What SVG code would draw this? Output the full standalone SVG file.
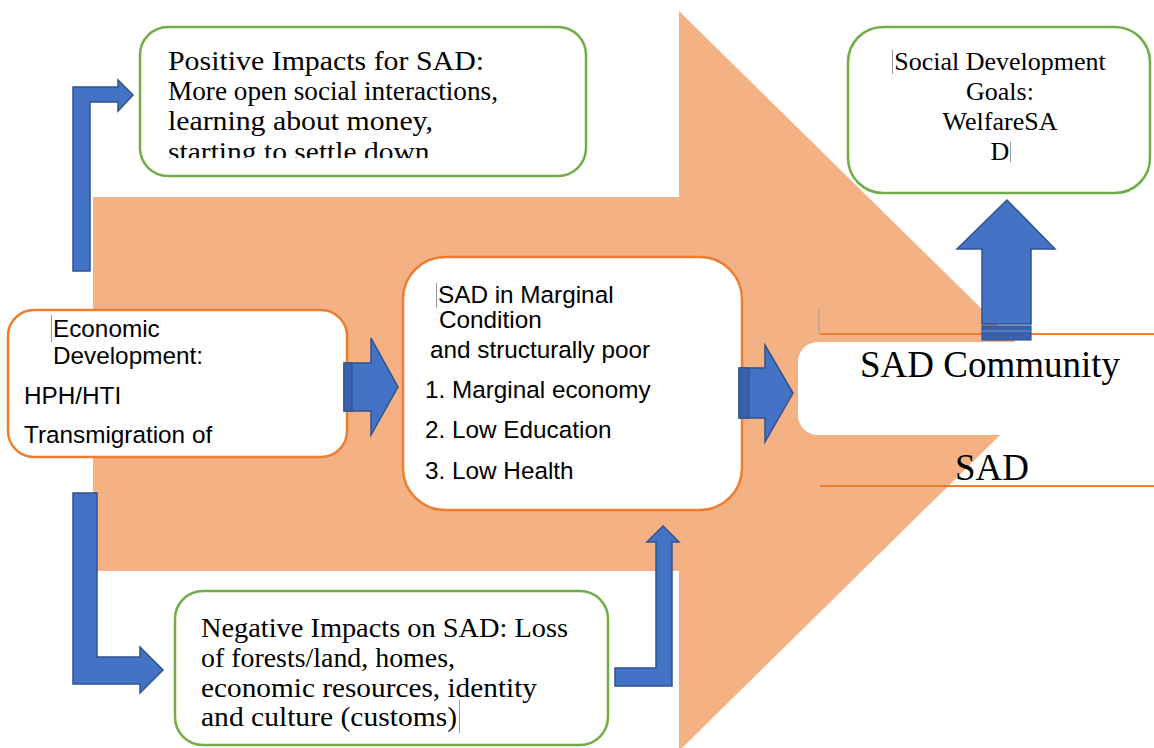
<svg xmlns="http://www.w3.org/2000/svg" width="1154" height="748" viewBox="0 0 1154 748">
<style>
.bg{fill:#F4B183}
.boxO{fill:#fff;stroke:#ED7D31;stroke-width:2.5}
.boxG{fill:#fff;stroke:#70AD47;stroke-width:2.5}
.arr{fill:#4472C4;stroke:#2F528F;stroke-width:1.5;stroke-linejoin:miter}
.band{fill:#3A62AC;stroke:#2F528F;stroke-width:1.2}
.sans{font-family:"Liberation Sans",Arial,sans-serif;font-size:24.3px;fill:#000}
.serif{font-family:"Liberation Serif","Times New Roman",serif;fill:#000}
.cur{stroke:#9a9a9a;stroke-width:1}
.oline{stroke:#ED7D31;stroke-width:2}
</style>
<defs>
<clipPath id="clipPos"><rect x="140" y="27" width="446" height="131"/></clipPath>
</defs>
<rect width="1154" height="748" fill="#fff"/>
<polygon class="bg" points="93,197 679,197 679,11 1055,381 679,751 679,571 93,571"/>

<g id="positive">
<rect class="boxG" x="140" y="27" width="446" height="149" rx="28"/>
<g clip-path="url(#clipPos)" class="serif" font-size="27" lengthAdjust="spacingAndGlyphs">
<text x="168" y="70" textLength="316" lengthAdjust="spacingAndGlyphs">Positive Impacts for SAD:</text>
<text x="168" y="100" textLength="330" lengthAdjust="spacingAndGlyphs">More open social interactions,</text>
<text x="168" y="130" textLength="265" lengthAdjust="spacingAndGlyphs">learning about money,</text>
<text x="168" y="161" textLength="269" lengthAdjust="spacingAndGlyphs">starting to settle down.</text>
</g>
</g>

<g id="goals">
<rect class="boxG" x="848" y="27" width="302" height="166" rx="35"/>
<g class="serif" font-size="26" text-anchor="middle">
<text x="1000" y="70">Social Development</text>
<text x="1000" y="100">Goals:</text>
<text x="1000" y="130">WelfareSA</text>
<text x="1000" y="160">D</text>
</g>
<line class="cur" x1="892.5" y1="50" x2="892.5" y2="74"/>
<line class="cur" x1="1010.5" y1="142" x2="1010.5" y2="162"/>
</g>

<g id="economic">
<rect class="boxO" x="8" y="310" width="339" height="147" rx="26"/>
<g class="sans">
<text x="53" y="337">Economic</text>
<text x="53" y="364">Development:</text>
<text x="24" y="404">HPH/HTI</text>
<text x="24" y="443">Transmigration of</text>
</g>
<line class="cur" x1="51.5" y1="315" x2="51.5" y2="342"/>
</g>

<g id="marginal">
<rect class="boxO" x="403" y="257" width="339" height="253" rx="42"/>
<g class="sans">
<text x="438" y="303">SAD in Marginal</text>
<text x="439" y="328">Condition</text>
<text x="430" y="358">and structurally poor</text>
<text x="425" y="398">1. Marginal economy</text>
<text x="425" y="438">2. Low Education</text>
<text x="425" y="479">3. Low Health</text>
</g>
<line class="cur" x1="436.5" y1="283" x2="436.5" y2="308"/>
</g>

<g id="community">
<rect x="798" y="342" width="380" height="93" rx="20" fill="#fff"/>
<line x1="819" y1="309" x2="819" y2="334" stroke="#B8A89A" stroke-width="1.5"/>
<line class="oline" x1="820" y1="334" x2="1154" y2="334"/>
<text class="serif" font-size="37" x="860" y="377">SAD Community</text>
<text class="serif" font-size="37" x="955" y="480">SAD</text>
<line class="oline" x1="820" y1="486" x2="1154" y2="486"/>
</g>

<g id="negative">
<rect class="boxG" x="175" y="591" width="433" height="154" rx="28"/>
<g class="serif" font-size="27.5">
<text x="201" y="637" textLength="367" lengthAdjust="spacingAndGlyphs">Negative Impacts on SAD: Loss</text>
<text x="201" y="667" textLength="254" lengthAdjust="spacingAndGlyphs">of forests/land, homes,</text>
<text x="201" y="697" textLength="336" lengthAdjust="spacingAndGlyphs">economic resources, identity</text>
<text x="201" y="726" textLength="256" lengthAdjust="spacingAndGlyphs">and culture (customs)</text>
</g>
<line class="cur" x1="459.5" y1="700" x2="459.5" y2="733"/>
</g>

<g id="connectors">
<polygon class="arr" points="73,271 73,87 118,87 118,80 133,95 118,111 118,102 90,102 90,271"/>
<polygon class="arr" points="73,493 97,493 97,657 140,657 140,647 163,670 140,693 140,684 73,684"/>
<polygon class="arr" points="615,668 656,668 656,542 647,542 663,526 679,542 672,542 672,686 615,686"/>
<polygon class="arr" points="344,363 371,363 371,338 398,387 371,435 371,411 344,411"/>
<rect class="band" x="344" y="363" width="8" height="48"/>
<polygon class="arr" points="739,368 765,368 765,345 793,393 765,442 765,418 739,418"/>
<rect class="band" x="739" y="368" width="10" height="50"/>
<polygon class="arr" points="982,324 982,249 957,249 1007,200 1055,249 1031,249 1031,324"/>
<rect class="band" x="982" y="326" width="49" height="14"/>
<line x1="982" y1="331" x2="1031" y2="331" stroke="#6E8FCF" stroke-width="1"/>
</g>
</svg>
